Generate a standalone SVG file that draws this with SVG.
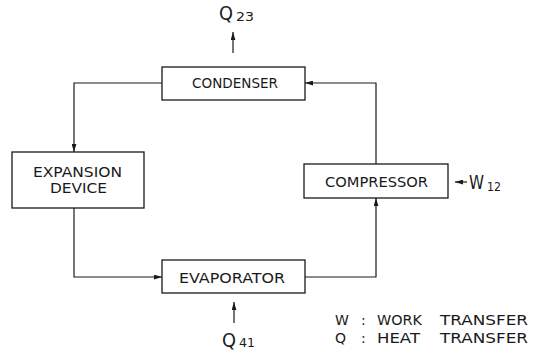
<svg xmlns="http://www.w3.org/2000/svg" width="537" height="350" viewBox="0 0 537 350">
<style>
.box{fill:#fff;stroke:#1a1a1a;stroke-width:1.3}
.ln{fill:none;stroke:#1a1a1a;stroke-width:1.2}
.t{font-family:"DejaVu Sans",sans-serif;font-size:14px;fill:#1a1a1a}
.big{font-family:"DejaVu Sans",sans-serif;font-size:19px;fill:#1a1a1a}
.sub{font-family:"DejaVu Sans",sans-serif;font-size:12px;fill:#1a1a1a}
</style>
<defs>
<marker id="ah" viewBox="0 0 10 6" refX="10" refY="3" markerWidth="8" markerHeight="5" markerUnits="userSpaceOnUse" orient="auto">
<path d="M0,0 L10,3 L0,6 z" fill="#1a1a1a"/>
</marker>
</defs>
<rect width="537" height="350" fill="#fff"/>
<g id="connectors">
<polyline class="ln" points="162,83 74,83 74,152" marker-end="url(#ah)"/>
<polyline class="ln" points="74,208 74,277 162,277" marker-end="url(#ah)"/>
<polyline class="ln" points="305,277 376,277 376,198" marker-end="url(#ah)"/>
<polyline class="ln" points="376,164 376,83 305,83" marker-end="url(#ah)"/>
<line class="ln" x1="233" y1="53" x2="233" y2="32" marker-end="url(#ah)"/>
<line class="ln" x1="234" y1="323" x2="234" y2="302" marker-end="url(#ah)"/>
<line class="ln" x1="467" y1="182" x2="455" y2="182" marker-end="url(#ah)"/>
</g>
<g id="condenser">
<rect class="box" x="162" y="67" width="143" height="33"/>
<text class="t" x="192" y="88" textLength="86" lengthAdjust="spacingAndGlyphs">CONDENSER</text>
</g>
<g id="expansion-device">
<rect class="box" x="12" y="152" width="132" height="56"/>
<text class="t" x="33" y="177" textLength="89" lengthAdjust="spacingAndGlyphs">EXPANSION</text>
<text class="t" x="50" y="193" textLength="57" lengthAdjust="spacingAndGlyphs">DEVICE</text>
</g>
<g id="evaporator">
<rect class="box" x="162" y="260" width="143" height="33"/>
<text class="t" x="179" y="283" textLength="106" lengthAdjust="spacingAndGlyphs">EVAPORATOR</text>
</g>
<g id="compressor">
<rect class="box" x="304" y="164" width="144" height="34"/>
<text class="t" x="325" y="187" textLength="103" lengthAdjust="spacingAndGlyphs">COMPRESSOR</text>
</g>
<g id="q23">
<text class="big" x="219" y="20" textLength="14" lengthAdjust="spacingAndGlyphs">Q</text>
<text class="sub" x="236" y="21" textLength="18" lengthAdjust="spacingAndGlyphs">23</text>
</g>
<g id="q41">
<text class="big" x="222" y="347" textLength="14" lengthAdjust="spacingAndGlyphs">Q</text>
<text class="sub" x="239" y="347" textLength="16" lengthAdjust="spacingAndGlyphs">41</text>
</g>
<g id="w12">
<text class="big" x="469" y="189" textLength="15" lengthAdjust="spacingAndGlyphs">W</text>
<text class="sub" x="487" y="191" textLength="14" lengthAdjust="spacingAndGlyphs">12</text>
</g>
<g id="legend">
<text class="t" y="325"><tspan x="335">W</tspan><tspan x="361">:</tspan><tspan x="377" textLength="45" lengthAdjust="spacingAndGlyphs">WORK</tspan><tspan x="440" textLength="88" lengthAdjust="spacingAndGlyphs">TRANSFER</tspan></text>
<text class="t" y="343"><tspan x="335">Q</tspan><tspan x="361">:</tspan><tspan x="377" textLength="43" lengthAdjust="spacingAndGlyphs">HEAT</tspan><tspan x="440" textLength="88" lengthAdjust="spacingAndGlyphs">TRANSFER</tspan></text>
</g>
</svg>
